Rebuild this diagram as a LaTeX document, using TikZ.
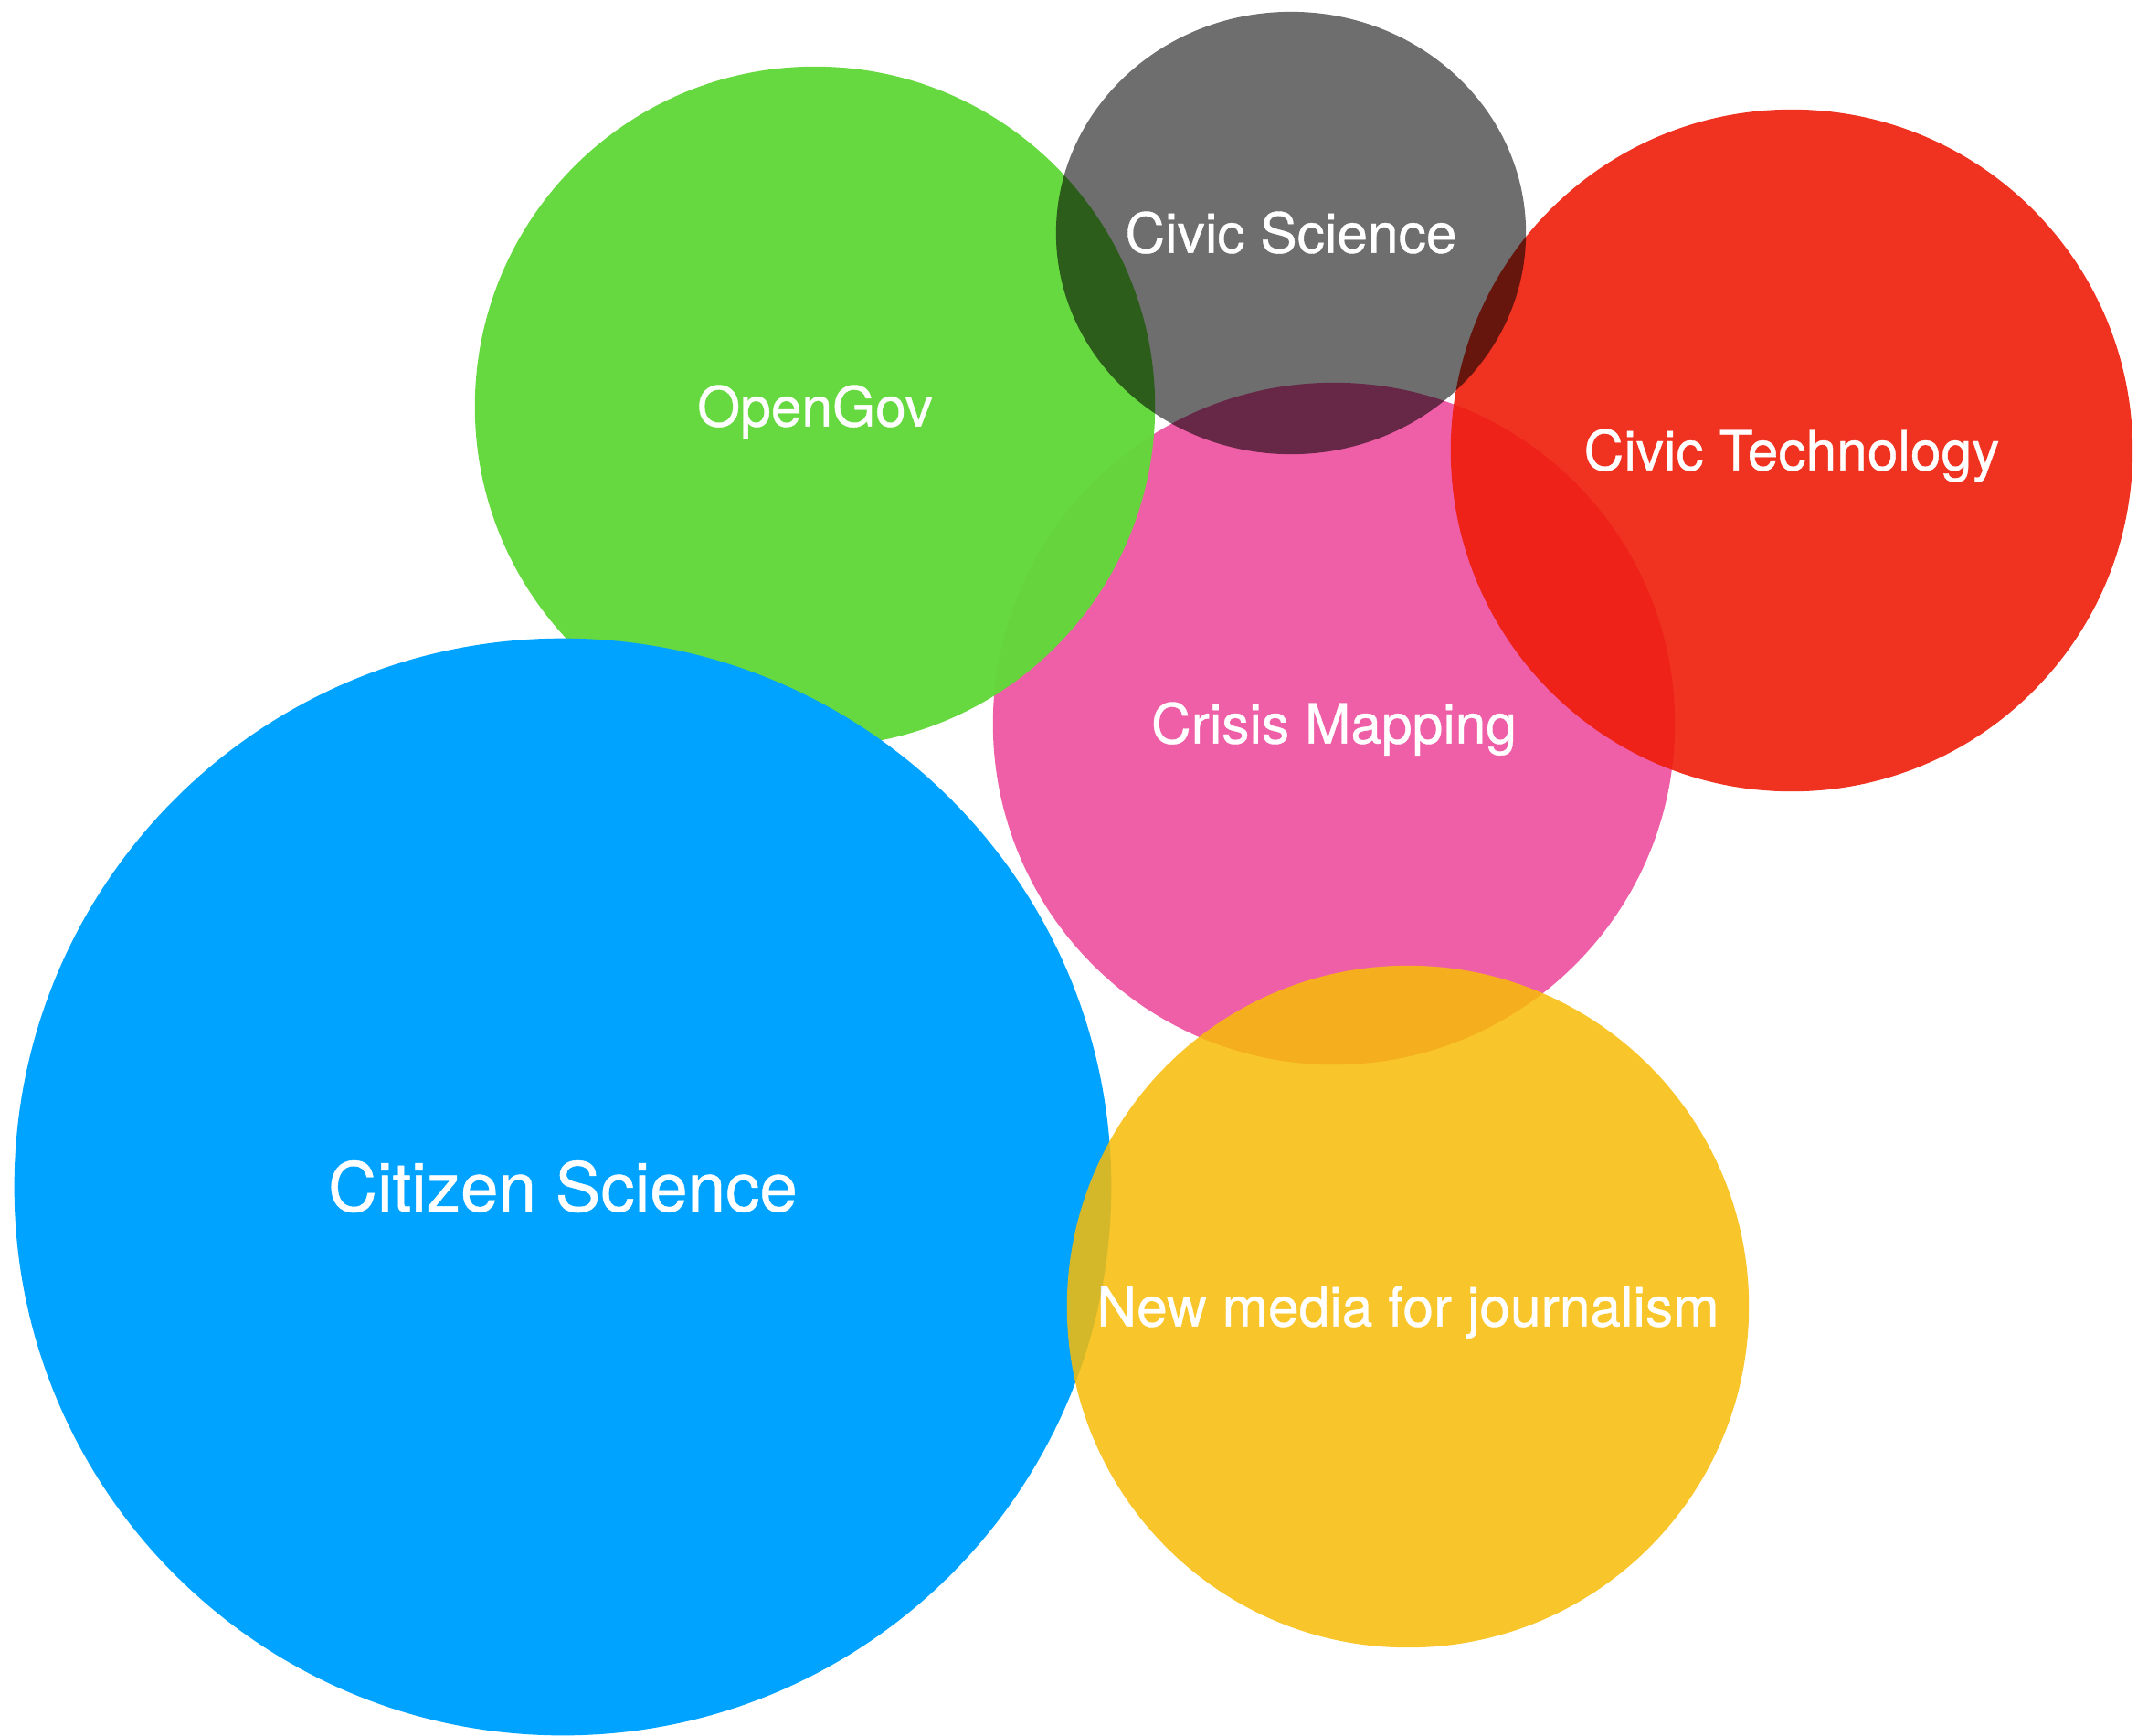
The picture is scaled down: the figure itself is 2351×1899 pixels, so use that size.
\documentclass[tikz,border=0pt]{standalone}
\usepackage{fontspec}
\setmainfont{TeX Gyre Heros}
\newfontfamily\bubblefont[FakeBold=0.6]{TeX Gyre Heros}
\usetikzlibrary{shapes.geometric}
\definecolor{cpink}{RGB}{239,95,167}
\definecolor{cgreen}{RGB}{98,216,58}
\definecolor{cred}{RGB}{238,28,9}
\definecolor{cblue}{RGB}{0,163,255}
\definecolor{cyellow}{RGB}{247,188,7}
\begin{document}
\begin{tikzpicture}[x=0.01cm,y=-0.01cm,
  bubble/.style={circle, inner sep=0pt, draw=none},
  lbl/.style={text=white, inner sep=0pt, text depth=0pt, text height=12.3pt,
    font=\bubblefont\fontsize{17.2pt}{20pt}\selectfont},
  biglbl/.style={text=white, inner sep=0pt, text depth=0pt, text height=15.2pt,
    font=\bubblefont\fontsize{21.2pt}{25pt}\selectfont}]
\useasboundingbox (0,0) rectangle (2351,1899);
% Crisis Mapping
\node[bubble, fill=cpink, minimum size=7.46cm] (crisis) at (1460,792) {};
\node[lbl] (crisisT) at (crisis.center) {Crisis Mapping};
% OpenGov
\begin{scope}[transparency group, opacity=0.97]
\node[bubble, fill=cgreen, minimum size=7.44cm] (opengov) at (892,445) {};
\node[lbl] (opengovT) at (opengov.center) {OpenGov};
\end{scope}
% Civic Technology
\begin{scope}[transparency group, opacity=0.9]
\node[bubble, fill=cred, minimum size=7.46cm] (civtech) at (1961,493) {};
\node[lbl] (civtechT) at (civtech.center) {Civic Technology};
\end{scope}
% Civic Science
\begin{scope}[transparency group, opacity=0.57]
\node[ellipse, inner sep=0pt, fill=black, minimum width=5.14cm, minimum height=4.84cm] (civsci) at (1413,255) {};
\node[lbl] (civsciT) at (civsci.center) {Civic Science};
\end{scope}
% Citizen Science
\node[bubble, fill=cblue, minimum size=12cm] (citizen) at (616,1299) {};
\node[biglbl] (citizenT) at (citizen.center) {Citizen Science};
% New media
\begin{scope}[transparency group, opacity=0.86]
\node[bubble, fill=cyellow, minimum size=7.46cm] (newmedia) at (1541,1430) {};
\node[lbl] (newmediaT) at (newmedia.center) {New media for journalism};
\end{scope}
\end{tikzpicture}
\end{document}
